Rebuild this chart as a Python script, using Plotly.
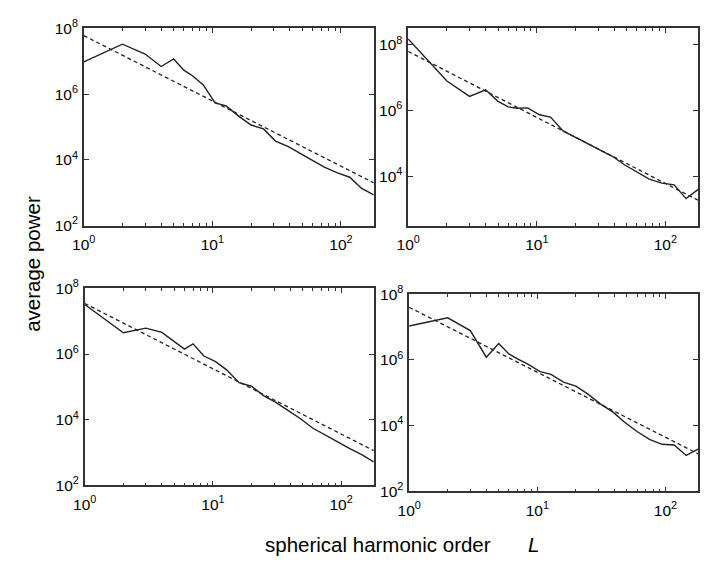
import plotly.graph_objects as go

# spherical harmonic order (shared grid)
L = [1, 2, 3, 4, 5, 6, 7, 8.5, 10.5, 12.8, 16, 20, 25, 31, 39, 48, 60, 75, 94, 117, 145, 180]

# log10(average power) for each panel, solid curves
logP_a = [6.98, 7.52, 7.22, 6.84, 7.07, 6.73, 6.56, 6.28, 5.73, 5.64, 5.33, 5.06, 4.94, 4.57, 4.40, 4.19, 3.98, 3.77, 3.60, 3.47, 3.13, 2.93]
logP_b = [8.18, 6.90, 6.43, 6.63, 6.28, 6.11, 6.07, 6.08, 5.87, 5.80, 5.38, 5.19, 4.99, 4.82, 4.60, 4.35, 4.14, 3.91, 3.79, 3.74, 3.32, 3.60]
logP_c = [7.51, 6.65, 6.79, 6.66, 6.38, 6.15, 6.31, 5.94, 5.77, 5.52, 5.13, 5.02, 4.73, 4.53, 4.27, 4.04, 3.75, 3.55, 3.33, 3.12, 2.94, 2.72]
logP_d = [7.03, 7.28, 6.89, 6.08, 6.50, 6.18, 6.03, 5.86, 5.64, 5.56, 5.32, 5.20, 4.95, 4.66, 4.41, 4.10, 3.82, 3.58, 3.43, 3.41, 3.09, 3.28]

# dashed power-law fits (endpoints)
fit_L = [1, 180]
fit_a = [7.78, 3.30]
fit_b = [7.80, 3.27]
fit_c = [7.54, 3.06]
fit_d = [7.60, 3.14]

# axis ranges (log10)
x_range = [0, 2.2553]
y_ranges = [[2, 8], [2.5, 8.5], [2, 8], [2, 8]]

x_ticks = [1, 10, 100]
x_ticktext = ["10<sup>0</sup>", "10<sup>1</sup>", "10<sup>2</sup>"]
y_ticks = [1e2, 1e4, 1e6, 1e8]
y_ticktext = ["10<sup>2</sup>", "10<sup>4</sup>", "10<sup>6</sup>", "10<sup>8</sup>"]
x_minor = [2, 3, 4, 5, 6, 7, 8, 9, 20, 30, 40, 50, 60, 70, 80, 90]

W, H = 709, 565
# panel boxes in pixels: left, right, top, bottom
boxes = [(73, 368, 18, 222), (403, 698, 18, 222), (74, 368, 287, 491), (404, 698, 293, 497)]

solids = [logP_a, logP_b, logP_c, logP_d]
fits = [fit_a, fit_b, fit_c, fit_d]

FONT = "Liberation Sans, Arial, Helvetica, sans-serif"
INK = "#222222"
AX = "#333333"
TICKSIZE = 15.5
TITLESIZE = 20.5

fig = go.Figure()
layout = dict(
    width=W, height=H, margin=dict(l=0, r=0, t=0, b=0),
    paper_bgcolor="white", plot_bgcolor="white", showlegend=False,
    font=dict(family=FONT, size=TICKSIZE, color="black"),
)

for i in range(4):
    n = "" if i == 0 else str(i + 1)
    xa, ya = "x" + n, "y" + n
    fig.add_trace(go.Scatter(x=L, y=[10 ** v for v in solids[i]], mode="lines",
                             line=dict(color=INK, width=1.4), xaxis=xa, yaxis=ya))
    fig.add_trace(go.Scatter(x=fit_L, y=[10 ** v for v in fits[i]], mode="lines",
                             line=dict(color=INK, width=1.3, dash="4px,3px"), xaxis=xa, yaxis=ya))
    l, r, t, b = boxes[i]
    layout["xaxis" + n] = dict(
        type="log", range=x_range, domain=[l / W, r / W], anchor=ya,
        tickmode="array", tickvals=x_ticks, ticktext=x_ticktext,
        ticks="inside", ticklen=5, tickwidth=1, tickcolor=AX,
        minor=dict(ticks="inside", ticklen=3, tickwidth=1, tickcolor=AX, tickmode="array", tickvals=x_minor),
        showline=True, linecolor=AX, linewidth=1.5, mirror="ticks",
        showgrid=False, zeroline=False, tickfont=dict(size=TICKSIZE, family=FONT, color="black"),
        ticklabelstandoff=4,
    )
    layout["yaxis" + n] = dict(
        type="log", range=y_ranges[i], domain=[1 - b / H, 1 - t / H], anchor=xa,
        tickmode="array", tickvals=y_ticks, ticktext=y_ticktext,
        ticks="inside", ticklen=5, tickwidth=1, tickcolor=AX,
        showline=True, linecolor=AX, linewidth=1.5, mirror="ticks",
        showgrid=False, zeroline=False, tickfont=dict(size=TICKSIZE, family=FONT, color="black"),
        ticklabelstandoff=1,
    )

layout["annotations"] = [
    dict(text="spherical harmonic order", x=372 / W, y=1 - 552 / H,
         xref="paper", yref="paper", showarrow=False, xanchor="center", yanchor="middle",
         font=dict(size=TITLESIZE, family=FONT, color="black")),
    dict(text="<i>L</i>", x=530 / W, y=1 - 552 / H,
         xref="paper", yref="paper", showarrow=False, xanchor="center", yanchor="middle",
         font=dict(size=TITLESIZE, family=FONT, color="black")),
    dict(text="average power", x=21 / W, y=1 - 262 / H, textangle=-90,
         xref="paper", yref="paper", showarrow=False, xanchor="center", yanchor="middle",
         font=dict(size=TITLESIZE, family=FONT, color="black")),
]

fig.update_layout(**layout)
fig.write_html("out.html")
